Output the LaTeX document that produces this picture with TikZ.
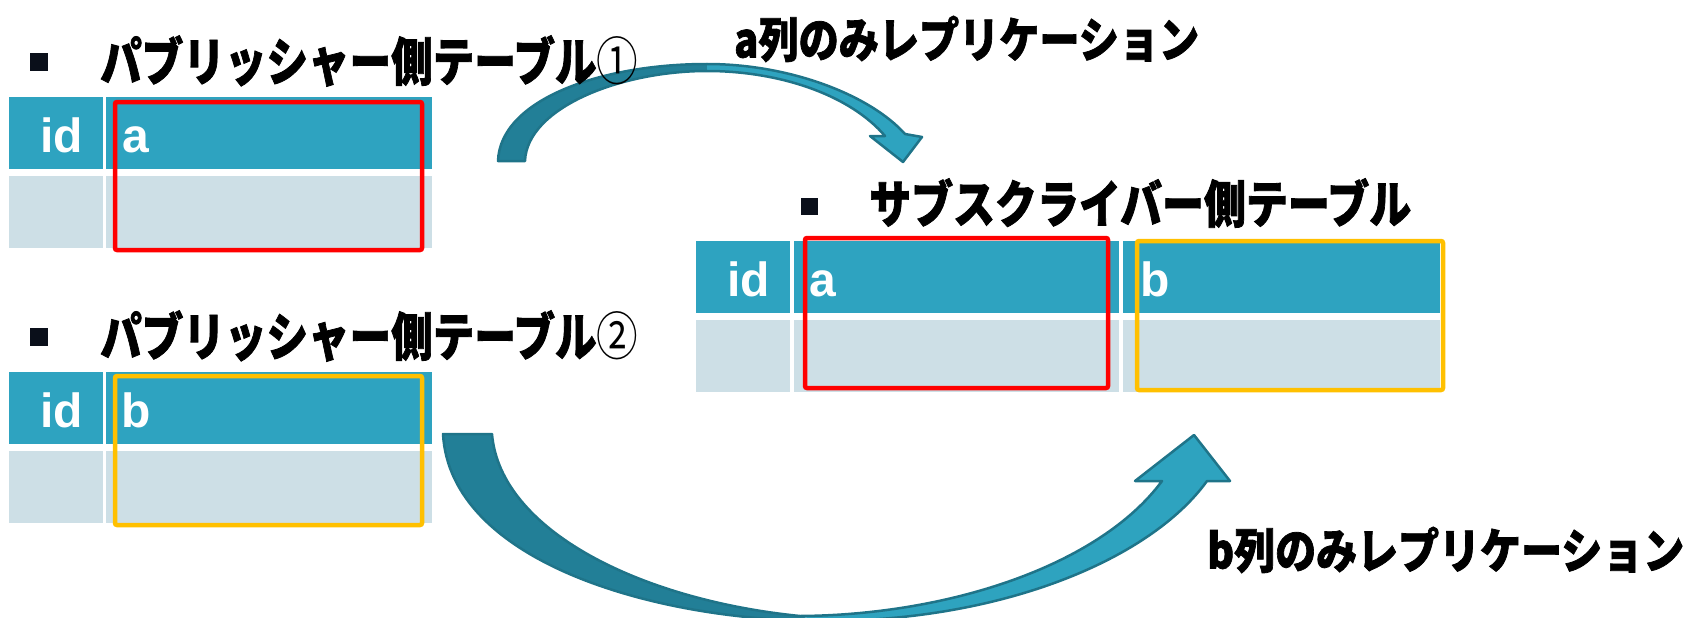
\documentclass[tikz,border=0pt]{standalone}
\usepackage{fontspec}
\setmainfont{Liberation Sans}
\newfontfamily\jp{Noto Sans CJK JP}[BoldFeatures={FakeBold=1.6}]
\definecolor{hdr}{HTML}{2EA3C0}
\definecolor{rowc}{HTML}{CDDFE6}
\definecolor{adark}{HTML}{227F97}
\definecolor{alight}{HTML}{2EA3BF}
\definecolor{aline}{HTML}{1F7489}
\definecolor{ybox}{HTML}{FFC000}
\definecolor{bul}{HTML}{0A0F1A}
\tikzset{
  hdrcell/.style={fill=hdr},
  rowcell/.style={fill=rowc},
  celltxt/.style={text=white, anchor=base west, inner sep=0pt,
     font=\fontsize{48}{48}\selectfont\bfseries},
  ttl/.style={anchor=west, inner sep=0pt, font=\jp\bfseries},
  redbox/.style={draw=red, line width=4.5pt, rounded corners=2pt},
  yelbox/.style={draw=ybox, line width=4.5pt, rounded corners=2pt},
  bulletbox/.style={fill=bul, minimum size=18pt, inner sep=0pt},
  arrowline/.style={draw=aline, line width=2.5pt, line join=round},
}
\begin{document}
\begin{tikzpicture}[x=1pt,y=-1pt]
\useasboundingbox (0,0) rectangle (1686,618);
% ---------- table 1 ----------
\fill[hdrcell] (9,97) rectangle (103,169);
\fill[hdrcell] (106,97) rectangle (432,169);
\fill[rowcell] (9,176) rectangle (103,248);
\fill[rowcell] (106,176) rectangle (432,248);
\node[celltxt] (t1id) at (40,152) {id};
\node[celltxt] (t1a) at (122,152) {a};
% ---------- table 2 ----------
\fill[hdrcell] (9,372) rectangle (103,444);
\fill[hdrcell] (106,372) rectangle (432,444);
\fill[rowcell] (9,451) rectangle (103,523);
\fill[rowcell] (106,451) rectangle (432,523);
\node[celltxt] (t2id) at (40,427) {id};
\node[celltxt] (t2b) at (121,427) {b};
% ---------- table 3 ----------
\fill[hdrcell] (696,241) rectangle (790,313);
\fill[hdrcell] (794,241) rectangle (1119,313);
\fill[hdrcell] (1123,241) rectangle (1440,313);
\fill[rowcell] (696,320) rectangle (790,392);
\fill[rowcell] (794,320) rectangle (1119,392);
\fill[rowcell] (1123,320) rectangle (1440,392);
\node[celltxt] (t3id) at (727,296) {id};
\node[celltxt] (t3a) at (809,296) {a};
\node[celltxt] (t3b) at (1140,296) {b};
% ---------- highlight boxes ----------
\draw[redbox] (115,102) rectangle (422,250);
\draw[yelbox] (115,376) rectangle (422,525);
\draw[redbox] (805,238) rectangle (1108,388);
\draw[yelbox] (1137,241) rectangle (1443,390);
% ---------- arrow 1 ----------
\fill[adark] (498,161) .. controls (500,100) and (600,64) .. (707,64)
   -- (707,71) .. controls (620,71) and (527,108) .. (525,161) -- cycle;
\fill[alight] (707,64) .. controls (790,64) and (870,95) .. (905,134)
   -- (922,137) -- (903,162) -- (870,136) -- (885,136)
   .. controls (850,95) and (780,71) .. (707,71) -- cycle;
\draw[arrowline] (498,161) .. controls (500,100) and (600,64) .. (707,64)
   .. controls (790,64) and (870,95) .. (905,134)
   -- (922,137) -- (903,162) -- (870,136) -- (885,136)
   .. controls (850,95) and (780,71) .. (707,71)
   .. controls (620,71) and (527,108) .. (525,161) -- cycle;
% ---------- arrow 2 ----------
\begin{scope}
\clip (0,0) rectangle (1686,618);
\fill[adark] (443,434) .. controls (450,560) and (650,620) .. (820,621)
   -- (800,616) .. controls (640,600) and (500,530) .. (492,434) -- cycle;
\fill[alight] (820,621) .. controls (1000,622) and (1150,560) .. (1207,481)
   -- (1230,481) -- (1194,435) -- (1135,481) -- (1162,481)
   .. controls (1100,565) and (950,615) .. (800,616) -- cycle;
\draw[arrowline] (443,434) .. controls (450,560) and (650,620) .. (820,621)
   .. controls (1000,622) and (1150,560) .. (1207,481)
   -- (1230,481) -- (1194,435) -- (1135,481) -- (1162,481)
   .. controls (1100,565) and (950,615) .. (800,616)
   .. controls (640,600) and (500,530) .. (492,434) -- cycle;
\end{scope}
% ---------- titles ----------
\node[bulletbox] (b1) at (39,62) {};
\node[ttl] (title1) at (100,61) {\resizebox{538pt}{\height}{\fontsize{52}{52}\selectfont パブリッシャー側テーブル{\mdseries ①}}};
\node[bulletbox] (b2) at (39,337) {};
\node[ttl] (title2) at (100,336) {\resizebox{538pt}{\height}{\fontsize{52}{52}\selectfont パブリッシャー側テーブル{\mdseries ②}}};
\node[bulletbox, minimum size=17pt] (b3) at (809,206) {};
\node[ttl] (title3) at (869,203) {\resizebox{542pt}{\height}{\fontsize{51}{51}\selectfont サブスクライバー側テーブル}};
\node[ttl] (lab1) at (734,39) {\resizebox{465pt}{\height}{\fontsize{48}{48}\selectfont a列のみレプリケーション}};
\node[ttl] (lab2) at (1207,550) {\resizebox{477pt}{\height}{\fontsize{48}{48}\selectfont b列のみレプリケーション}};
\end{tikzpicture}
\end{document}
